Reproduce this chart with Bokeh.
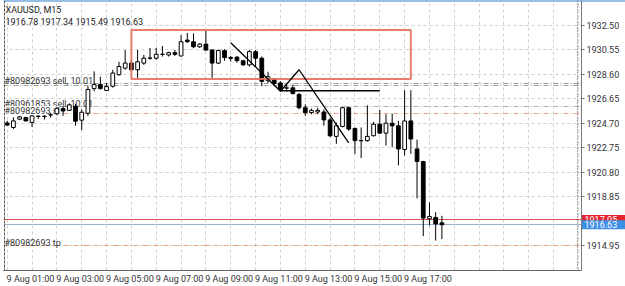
from bokeh.plotting import figure
from bokeh.models import ColumnDataSource, FixedTicker, Range1d, Label, LinearAxis, Grid
from bokeh.core.properties import value
from bokeh.embed import file_html
from bokeh.resources import INLINE

# ---------------- data ----------------
symbol_title = "XAUUSD, M15"
last_ohlc = "1916.78 1917.34 1915.49 1916.63"

opens = [1924.72, 1924.37, 1925.03, 1925.16, 1924.77, 1925.27, 1925.24, 1925.36, 1925.46, 1925.87,
         1925.73, 1926.05, 1924.95, 1925.50, 1927.46, 1927.78, 1927.31, 1927.65, 1928.57, 1929.09,
         1929.49, 1928.96, 1929.49, 1929.88, 1929.88, 1930.18, 1930.14, 1930.32, 1930.06, 1931.32,
         1931.19, 1930.79, 1931.00, 1930.53, 1929.49, 1930.48, 1929.86, 1929.96, 1929.67, 1929.35,
         1930.40, 1929.88, 1928.09, 1928.23, 1927.91, 1927.50, 1927.52, 1926.99, 1925.94, 1925.55,
         1925.60, 1925.60, 1924.97, 1923.66, 1924.45, 1925.94, 1924.29, 1923.33, 1923.32, 1923.71,
         1924.63, 1923.92, 1924.71, 1924.50, 1922.61, 1924.89, 1922.66, 1921.66, 1917.10, 1917.21,
         1916.78]
highs = [1924.89, 1925.18, 1925.29, 1925.22, 1925.34, 1925.34, 1925.34, 1925.54, 1926.01, 1926.03,
         1926.29, 1926.25, 1925.81, 1927.65, 1928.83, 1928.41, 1927.90, 1928.96, 1929.59, 1930.53,
         1929.75, 1930.53, 1930.14, 1930.69, 1930.69, 1930.85, 1930.40, 1930.53, 1931.71, 1931.89,
         1931.85, 1931.08, 1932.11, 1930.61, 1930.57, 1930.59, 1930.06, 1930.06, 1929.75, 1930.53,
         1930.53, 1930.01, 1928.80, 1928.31, 1928.04, 1927.78, 1927.78, 1927.13, 1926.21, 1925.87,
         1925.94, 1925.81, 1925.16, 1924.77, 1926.03, 1926.03, 1924.37, 1924.37, 1926.13, 1924.81,
         1925.76, 1925.42, 1925.47, 1924.89, 1927.33, 1927.33, 1923.40, 1921.72, 1918.41, 1917.63,
         1917.34]
lows = [1924.50, 1924.24, 1924.95, 1924.87, 1924.40, 1925.05, 1925.00, 1925.16, 1925.34, 1925.29,
        1925.68, 1924.51, 1924.16, 1925.29, 1927.25, 1927.39, 1927.25, 1927.54, 1928.49, 1928.96,
        1928.83, 1928.31, 1929.35, 1929.75, 1929.75, 1930.01, 1930.01, 1930.06, 1930.01, 1931.11,
        1930.67, 1930.69, 1930.45, 1928.31, 1929.43, 1929.67, 1929.61, 1929.53, 1929.27, 1929.22,
        1929.22, 1927.65, 1927.91, 1927.65, 1927.25, 1927.23, 1926.99, 1925.81, 1925.29, 1925.42,
        1925.42, 1924.50, 1923.59, 1923.06, 1924.37, 1924.10, 1922.27, 1921.93, 1923.24, 1923.66,
        1923.84, 1922.92, 1922.80, 1921.35, 1922.14, 1922.27, 1918.73, 1915.72, 1916.58, 1915.37,
        1915.49]
closes = [1924.56, 1924.89, 1925.21, 1924.89, 1925.29, 1925.25, 1925.27, 1925.38, 1925.89, 1925.68,
          1926.17, 1924.87, 1925.58, 1927.39, 1927.78, 1927.46, 1927.62, 1928.70, 1929.22, 1929.49,
          1928.96, 1929.59, 1929.88, 1929.90, 1930.19, 1930.20, 1930.32, 1930.19, 1931.19, 1931.19,
          1930.79, 1931.00, 1930.53, 1929.49, 1930.49, 1929.93, 1929.94, 1929.69, 1929.35, 1930.40,
          1929.88, 1928.04, 1928.41, 1927.86, 1927.39, 1927.52, 1927.07, 1925.94, 1925.55, 1925.73,
          1925.73, 1924.97, 1923.71, 1924.50, 1925.94, 1924.24, 1923.32, 1923.31, 1923.66, 1924.63,
          1923.92, 1924.71, 1924.50, 1922.66, 1924.89, 1923.45, 1921.66, 1917.16, 1917.29, 1916.69,
          1916.63]

x_tick_bars = [0, 8, 16, 24, 32, 40, 48, 56, 64]
x_tick_labels = ["9 Aug 01:00", "9 Aug 03:00", "9 Aug 05:00", "9 Aug 07:00", "9 Aug 09:00",
                 "9 Aug 11:00", "9 Aug 13:00", "9 Aug 15:00", "9 Aug 17:00"]
grid_bars = list(range(0, 93, 4))

y_ticks = [1932.50, 1930.55, 1928.60, 1926.65, 1924.70, 1922.75, 1920.80, 1918.85, 1914.95]
y_tick_labels = ["1932.50", "1930.55", "1928.60", "1926.65", "1924.70", "1922.75", "1920.80",
                 "1918.85", "1914.95"]

order_prices = [1927.88, 1927.70, 1926.05, 1925.52, 1914.99]
order_labels = ["#80982693 sell, 10.01", "", "#80961853 sell, 10.01", "#80982693 sl", "#80982693 tp"]
order_colors = ["#8fa68f", "#a0a0a0", "#9fbc9f", "#eba58c", "#e9a47c"]

ask_price = 1917.05
bid_price = 1916.63
ask_label = "1917.05"
bid_label = "1916.63"

box_bars = [20, 65]
box_prices = [1928.23, 1932.13]
zigzag_bars = [36, 44, 47, 55]
zigzag_prices = [1931.11, 1927.25, 1928.96, 1923.14]
hline_bars = [44, 60]
hline_prices = [1927.29, 1927.29]

# ---------------- figure ----------------
FONT = "Roboto"
X0 = -0.596     # left edge of the chart
X1 = 92.48      # right edge of the chart area (price scale starts here)
XE = 99.57      # right edge of the canvas
Y0, YE = 1912.99, 1934.47
p = figure(width=625, height=286, output_backend="svg", toolbar_location=None,
           x_range=Range1d(X0, XE), y_range=Range1d(Y0, YE),
           y_axis_location=None, min_border_left=3, min_border_right=0,
           min_border_top=0, min_border_bottom=13)
p.background_fill_color = "white"
p.border_fill_color = "white"
p.outline_line_color = None
p.grid.visible = False

# grid
p.add_layout(Grid(dimension=0, ticker=FixedTicker(ticks=grid_bars), grid_line_color="#cfcfcf",
                  grid_line_dash="3 3", grid_line_width=1))
p.add_layout(Grid(dimension=1, ticker=FixedTicker(ticks=y_ticks), grid_line_color="#cfcfcf",
                  grid_line_dash="3 3", grid_line_width=1))

# x axis (time labels start at their bar: centred label put half a label-width to the right)
half_label_bars = 3.75
x_label_pos = [b + half_label_bars for b in x_tick_bars]
p.xaxis.ticker = FixedTicker(ticks=x_label_pos)
p.xaxis.major_label_overrides = dict(zip(x_label_pos, x_tick_labels))
p.xaxis.bounds = (X0, X1)
p.xaxis.axis_line_color = "#666666"
p.xaxis.major_tick_out = 0
p.xaxis.major_tick_in = 0
p.xaxis.minor_tick_line_color = None
p.xaxis.major_label_standoff = 3
p.xaxis.major_label_text_font = FONT
p.xaxis.major_label_text_font_size = "9px"
p.xaxis.major_label_text_color = "#333333"

# trade level lines
for price, col in zip(order_prices, order_colors):
    p.hspan(y=[price], line_color=col, line_width=1, line_dash="5 2 1 2")
p.hspan(y=[ask_price], line_color="#d9534f", line_width=1)
p.hspan(y=[bid_price], line_color="#9db3cc", line_width=1)

# trade level texts
for price, lab in zip(order_prices, order_labels):
    if not lab:
        continue
    bg = "white" if lab.endswith(" sl") else None
    p.text(x=[X0], y=[price], text=[lab], text_font=value(FONT),
           text_font_size="9px", text_color="#333333", text_align="left",
           text_baseline="alphabetic", x_offset=1, y_offset=-2,
           background_fill_color=bg)

# candles
idx = list(range(len(opens)))
src = ColumnDataSource(dict(
    x=idx, high=highs, low=lows,
    top=[max(o, c) for o, c in zip(opens, closes)],
    bottom=[min(o, c) for o, c in zip(opens, closes)],
    fill=["white" if c >= o else "black" for o, c in zip(opens, closes)],
))
p.segment(x0="x", y0="low", x1="x", y1="high", source=src, line_color="black", line_width=1)
p.vbar(x="x", width=0.6, top="top", bottom="bottom", fill_color="fill",
       line_color="black", line_width=1, source=src)

# drawn objects
p.quad(left=[box_bars[0]], right=[box_bars[1]], bottom=[box_prices[0]], top=[box_prices[1]],
       fill_color=None, line_color="#e4705e", line_width=2, line_alpha=0.9)
p.line(zigzag_bars, zigzag_prices, line_color="black", line_width=1.3)
p.line(hline_bars, hline_prices, line_color="black", line_width=1.6)

# chart borders / separators
p.vspan(x=[91.8], line_color="#444444", line_dash="1 2", line_width=1)
p.vspan(x=[X0 + 0.15], line_color="#555555", line_dash="3 1", line_width=1)

# price-scale area (blank background)
p.quad(left=[X1], right=[XE], bottom=[Y0], top=[YE], fill_color="white", line_color=None)

# price tags
tag_half = 0.36
for price, lab, col in ((ask_price, ask_label, "#e3262f"), (bid_price, bid_label, "#3d8fe6")):
    p.quad(left=[X1], right=[XE], bottom=[price - tag_half], top=[price + tag_half],
           fill_color=col, line_color=None)
    p.text(x=[X1], y=[price], text=[lab], text_font=value(FONT), text_font_size="9px",
           text_color="white", text_align="left", text_baseline="middle", x_offset=3)

# top blue strip
p.hspan(y=[YE], line_color="#2f7fd0", line_width=2)

# price scale: a zero-size axis pinned at the right edge of the chart area
yaxis = LinearAxis(fixed_location=X1, ticker=FixedTicker(ticks=y_ticks),
                   major_label_overrides=dict(zip(y_ticks, y_tick_labels)))
yaxis.axis_line_color = "#777777"
yaxis.major_tick_line_color = "#777777"
yaxis.minor_tick_line_color = None
yaxis.major_tick_in = 0
yaxis.major_tick_out = 3
yaxis.major_label_standoff = 2
yaxis.major_label_text_font = FONT
yaxis.major_label_text_font_size = "9px"
yaxis.major_label_text_color = "#333333"
p.add_layout(yaxis, "right")

# header texts
p.add_layout(Label(x=2, y=261, x_units="screen", y_units="screen", text=symbol_title,
                   text_font=FONT, text_font_size="9px", text_color="#222222",
                   text_baseline="middle"))
p.add_layout(Label(x=2, y=248.5, x_units="screen", y_units="screen", text=last_ohlc,
                   text_font=FONT, text_font_size="9px", text_color="#222222",
                   text_baseline="middle"))

open("out.html", "w").write(file_html(p, INLINE))
